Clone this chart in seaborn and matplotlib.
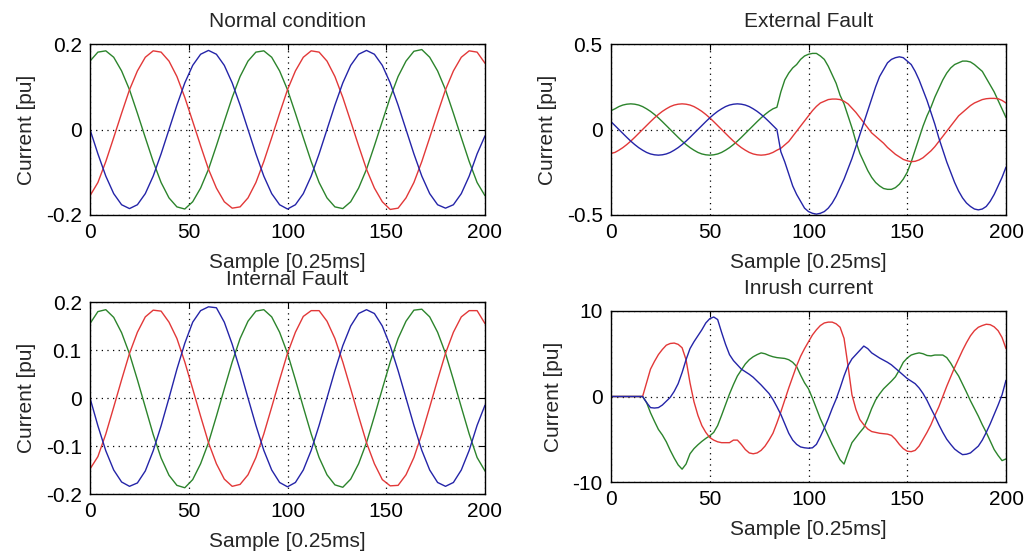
import numpy as np
import pandas as pd
import matplotlib
matplotlib.use("Agg")
import matplotlib.pyplot as plt
import matplotlib.ticker as ticker
import seaborn as sns

# sample index axes
x_coarse = np.arange(0, 201, 4)
x_fine = np.arange(0, 201, 2)

# Normal condition (every 4th sample)
normal_blue = [0.000, -0.057, -0.109, -0.150, -0.176, -0.185, -0.176, -0.150, -0.109, -0.057,
               0.000, 0.057, 0.109, 0.150, 0.176, 0.185, 0.176, 0.150, 0.109, 0.057,
               0.000, -0.057, -0.109, -0.150, -0.176, -0.186, -0.176, -0.150, -0.109, -0.057,
               0.000, 0.057, 0.109, 0.150, 0.176, 0.185, 0.176, 0.150, 0.109, 0.057,
               0.000, -0.057, -0.109, -0.150, -0.176, -0.184, -0.176, -0.150, -0.109, -0.057, -0.015]
normal_green = [0.160, 0.181, 0.184, 0.169, 0.137, 0.093, 0.038, -0.019, -0.075, -0.124,
                -0.160, -0.181, -0.186, -0.169, -0.137, -0.093, -0.038, 0.019, 0.075, 0.124,
                0.160, 0.181, 0.184, 0.169, 0.137, 0.093, 0.038, -0.019, -0.075, -0.124,
                -0.160, -0.181, -0.185, -0.169, -0.137, -0.093, -0.038, 0.019, 0.075, 0.124,
                0.160, 0.183, 0.187, 0.169, 0.137, 0.093, 0.038, -0.019, -0.075, -0.124, -0.155]
normal_red = [-0.155, -0.124, -0.075, -0.019, 0.038, 0.093, 0.137, 0.169, 0.184, 0.181,
              0.160, 0.124, 0.075, 0.019, -0.038, -0.093, -0.137, -0.169, -0.184, -0.181,
              -0.160, -0.124, -0.075, -0.019, 0.038, 0.093, 0.137, 0.169, 0.184, 0.181,
              0.160, 0.124, 0.075, 0.019, -0.038, -0.093, -0.137, -0.169, -0.187, -0.184,
              -0.160, -0.124, -0.075, -0.019, 0.038, 0.093, 0.137, 0.169, 0.184, 0.181, 0.155]

# Internal fault (every 4th sample)
internal_blue = [0.000, -0.058, -0.110, -0.150, -0.175, -0.184, -0.177, -0.152, -0.110, -0.058,
                 0.000, 0.060, 0.114, 0.158, 0.182, 0.190, 0.188, 0.158, 0.112, 0.058,
                 0.000, -0.057, -0.109, -0.150, -0.176, -0.185, -0.176, -0.150, -0.109, -0.057,
                 0.000, 0.057, 0.109, 0.150, 0.176, 0.184, 0.176, 0.150, 0.109, 0.057,
                 0.000, -0.057, -0.109, -0.150, -0.176, -0.184, -0.176, -0.150, -0.109, -0.057, -0.015]
internal_green = [0.155, 0.180, 0.184, 0.168, 0.136, 0.092, 0.038, -0.019, -0.076, -0.125,
                  -0.161, -0.182, -0.187, -0.170, -0.137, -0.093, -0.038, 0.019, 0.075, 0.124,
                  0.160, 0.181, 0.184, 0.169, 0.137, 0.093, 0.038, -0.019, -0.075, -0.124,
                  -0.160, -0.181, -0.186, -0.169, -0.137, -0.093, -0.038, 0.019, 0.075, 0.124,
                  0.160, 0.183, 0.185, 0.169, 0.137, 0.093, 0.038, -0.019, -0.075, -0.124, -0.152]
internal_red = [-0.148, -0.122, -0.075, -0.019, 0.038, 0.093, 0.137, 0.169, 0.183, 0.181,
                0.158, 0.124, 0.075, 0.019, -0.038, -0.093, -0.137, -0.169, -0.184, -0.180,
                -0.160, -0.124, -0.075, -0.019, 0.038, 0.093, 0.137, 0.170, 0.182, 0.182,
                0.160, 0.124, 0.075, 0.019, -0.038, -0.093, -0.137, -0.170, -0.183, -0.182,
                -0.160, -0.124, -0.075, -0.019, 0.038, 0.093, 0.137, 0.169, 0.182, 0.182, 0.155]

# External fault (every 2nd sample)
external_blue = [0.046, 0.023, 0.0, -0.023, -0.046, -0.068, -0.088, -0.106, -0.121, -0.134,
                 -0.143, -0.148, -0.150, -0.148, -0.143, -0.134, -0.121, -0.106, -0.088, -0.068,
                 -0.046, -0.023, 0.0, 0.023, 0.046, 0.068, 0.088, 0.106, 0.121, 0.134,
                 0.143, 0.148, 0.150, 0.148, 0.143, 0.134, 0.121, 0.106, 0.088, 0.068,
                 0.046, 0.023, 0.0, -0.13, -0.19, -0.26, -0.33, -0.38, -0.42, -0.46,
                 -0.48, -0.49, -0.495, -0.49, -0.48, -0.46, -0.43, -0.39, -0.34, -0.29,
                 -0.23, -0.17, -0.10, -0.03, 0.04, 0.11, 0.18, 0.25, 0.31, 0.35,
                 0.39, 0.41, 0.42, 0.425, 0.42, 0.40, 0.38, 0.34, 0.29, 0.23,
                 0.17, 0.10, 0.03, -0.05, -0.12, -0.19, -0.25, -0.31, -0.36, -0.40,
                 -0.43, -0.45, -0.465, -0.47, -0.465, -0.45, -0.42, -0.38, -0.33, -0.28,
                 -0.22]
external_green = [0.11, 0.121, 0.134, 0.143, 0.148, 0.150, 0.148, 0.143, 0.134, 0.121,
                  0.106, 0.088, 0.068, 0.046, 0.023, 0.0, -0.023, -0.046, -0.068, -0.088,
                  -0.106, -0.121, -0.134, -0.143, -0.148, -0.150, -0.148, -0.143, -0.134, -0.121,
                  -0.106, -0.088, -0.068, -0.046, -0.023, 0.0, 0.023, 0.046, 0.068, 0.088,
                  0.106, 0.121, 0.13, 0.22, 0.29, 0.33, 0.36, 0.38, 0.41, 0.43,
                  0.44, 0.445, 0.445, 0.43, 0.41, 0.37, 0.32, 0.27, 0.20, 0.15,
                  0.08, 0.01, -0.07, -0.14, -0.19, -0.24, -0.28, -0.31, -0.33, -0.345,
                  -0.35, -0.35, -0.34, -0.32, -0.29, -0.25, -0.19, -0.12, -0.05, 0.02,
                  0.08, 0.13, 0.19, 0.24, 0.29, 0.33, 0.36, 0.38, 0.39, 0.40,
                  0.40, 0.395, 0.38, 0.36, 0.34, 0.30, 0.26, 0.22, 0.17, 0.12,
                  0.07]
external_red = [-0.14, -0.134, -0.121, -0.106, -0.088, -0.068, -0.046, -0.023, 0.0, 0.023,
                0.046, 0.068, 0.088, 0.106, 0.121, 0.134, 0.143, 0.148, 0.150, 0.148,
                0.143, 0.134, 0.121, 0.106, 0.088, 0.068, 0.046, 0.023, 0.0, -0.023,
                -0.046, -0.068, -0.088, -0.106, -0.121, -0.134, -0.143, -0.148, -0.150, -0.148,
                -0.143, -0.134, -0.121, -0.11, -0.09, -0.07, -0.04, -0.01, 0.02, 0.05,
                0.08, 0.11, 0.135, 0.155, 0.165, 0.175, 0.178, 0.178, 0.175, 0.165,
                0.15, 0.125, 0.10, 0.07, 0.04, 0.01, -0.02, -0.04, -0.06, -0.08,
                -0.105, -0.125, -0.145, -0.16, -0.175, -0.183, -0.188, -0.186, -0.178, -0.165,
                -0.145, -0.125, -0.10, -0.07, -0.04, -0.01, 0.02, 0.05, 0.08, 0.10,
                0.12, 0.14, 0.155, 0.165, 0.175, 0.18, 0.182, 0.182, 0.18, 0.17,
                0.155]

# Inrush current (every 2nd sample)
inrush_blue = [0, 0, 0, 0, 0, 0, 0, 0, 0, -0.7,
               -1.3, -1.35, -1.3, -1.0, -0.55, -0.1, 0.6, 1.5, 2.8, 4.3,
               5.6, 6.4, 7.1, 7.8, 8.6, 9.1, 9.3, 9.0, 7.5, 6.1,
               4.9, 4.2, 3.7, 3.2, 2.9, 2.6, 2.25, 1.8, 1.35, 0.85,
               0.35, -0.35, -1.2, -2.1, -3.2, -4.3, -5.1, -5.6, -5.9, -6.0,
               -6.05, -6.0, -5.6, -4.7, -3.7, -2.6, -1.4, -0.3, 1.0, 2.4,
               3.6, 4.4, 4.9, 5.4, 5.9, 5.6, 5.1, 4.8, 4.5, 4.25,
               4.0, 3.7, 3.3, 2.9, 2.5, 2.1, 1.8, 1.5, 1.0, 0.35,
               -0.45, -1.4, -2.3, -3.3, -4.2, -5.0, -5.6, -6.15, -6.5, -6.8,
               -6.75, -6.6, -6.2, -5.8, -5.1, -4.2, -3.2, -2.1, -1.0, 0.2,
               1.9]
inrush_green = [0, 0, 0, 0, 0, 0, 0, 0, 0, -0.7,
                -1.9, -2.9, -3.85, -4.5, -5.3, -6.3, -7.2, -8.0, -8.5, -7.9,
                -6.7, -6.1, -5.65, -5.25, -4.9, -4.6, -4.2, -3.4, -2.2, -0.95,
                0.3, 1.4, 2.4, 3.1, 3.8, 4.3, 4.65, 4.9, 5.1, 5.0,
                4.8, 4.65, 4.55, 4.5, 4.45, 4.3, 4.0, 3.5, 2.5, 1.6,
                0.9, -0.2, -1.4, -2.6, -3.6, -4.6, -5.6, -6.5, -7.4, -7.9,
                -6.6, -5.4, -4.8, -4.2, -3.65, -2.6, -1.4, -0.4, 0.3, 0.9,
                1.35, 1.8, 2.3, 3.1, 4.0, 4.5, 4.85, 5.0, 5.1, 5.0,
                4.8, 4.75, 4.85, 4.85, 4.85, 4.55, 3.9, 3.1, 2.4, 1.45,
                0.5, -0.5, -1.4, -2.3, -3.3, -4.2, -5.2, -6.2, -6.9, -7.5,
                -7.3]
inrush_red = [0, 0, 0, 0, 0, 0, 0, 0, 0, 1.6,
              3.2, 4.1, 4.9, 5.5, 6.0, 6.2, 6.25, 6.1, 5.7, 4.3,
              1.6, -0.6, -2.2, -3.4, -4.2, -4.8, -5.1, -5.3, -5.4, -5.4,
              -5.4, -5.1, -5.1, -5.6, -6.2, -6.6, -6.7, -6.6, -6.3, -5.8,
              -5.1, -4.3, -3.1, -1.8, -0.4, 1.0, 2.3, 3.6, 4.7, 5.6,
              6.4, 7.2, 7.8, 8.3, 8.6, 8.7, 8.7, 8.5, 8.1, 6.8,
              3.6, 0.2, -1.5, -2.7, -3.3, -3.8, -4.1, -4.2, -4.3, -4.35,
              -4.4, -4.55, -5.0, -5.6, -6.1, -6.4, -6.45, -6.3, -5.8, -5.0,
              -4.2, -3.3, -2.2, -1.2, 0.0, 1.2, 2.3, 3.4, 4.4, 5.4,
              6.3, 7.1, 7.7, 8.1, 8.3, 8.45, 8.4, 8.15, 7.7, 6.9,
              5.6]

titles = ["Normal condition", "External Fault", "Internal Fault", "Inrush current"]
yticks = [[-0.2, 0, 0.2], [-0.5, 0, 0.5], [-0.2, -0.1, 0, 0.1, 0.2], [-10, 0, 10]]
xticks = [0, 50, 100, 150, 200]

blue = "#2424a8"
green = "#2c842c"
red = "#e23838"

sns.set_theme(style="white")
plt.rcParams["font.family"] = ["Liberation Sans", "DejaVu Sans"]
plt.rcParams["axes.unicode_minus"] = False

fig = plt.figure(figsize=(10.26, 5.57), dpi=100)
W, H = 1026, 557
boxes = [(90, 44, 395, 171), (611, 44, 395, 171), (90, 302, 395, 192), (611, 311, 395, 171)]

panels = [
    (x_coarse, normal_blue, normal_green, normal_red),
    (x_fine, external_blue, external_green, external_red),
    (x_coarse, internal_blue, internal_green, internal_red),
    (x_fine, inrush_blue, inrush_green, inrush_red),
]

for i, (bx, (xs, b, g, r)) in enumerate(zip(boxes, panels)):
    left, top, w, h = bx
    ax = fig.add_axes([left / W, 1 - (top + h) / H, w / W, h / H])
    df = pd.DataFrame({"sample": xs, "blue": b, "green": g, "red": r})
    for col, c in [("green", green), ("red", red), ("blue", blue)]:
        sns.lineplot(data=df, x="sample", y=col, color=c, linewidth=1.0, ax=ax)

    ax.set_xlim(0, 200)
    ax.set_ylim(yticks[i][0], yticks[i][-1])
    ax.set_xticks(xticks)
    ax.set_yticks(yticks[i])
    ax.xaxis.set_major_formatter(ticker.FuncFormatter(lambda v, p: f"{v:g}"))
    ax.yaxis.set_major_formatter(ticker.FuncFormatter(lambda v, p: f"{v:g}"))
    ax.grid(True, color="black", linestyle=(0, (1, 3.5)), linewidth=0.9)
    ax.tick_params(direction="in", length=4, width=0.8, top=True, right=True,
                   labelsize=15, pad=6, colors="black")
    for s in ax.spines.values():
        s.set_color("black")
        s.set_linewidth(1.0)
    ax.set_title(titles[i], fontsize=15, pad=12)
    ax.set_xlabel("Sample [0.25ms]", fontsize=15, labelpad=8)
    ax.set_ylabel("Current [pu]", fontsize=15, labelpad=7)

fig.savefig("out.png", dpi=100, facecolor="white")
